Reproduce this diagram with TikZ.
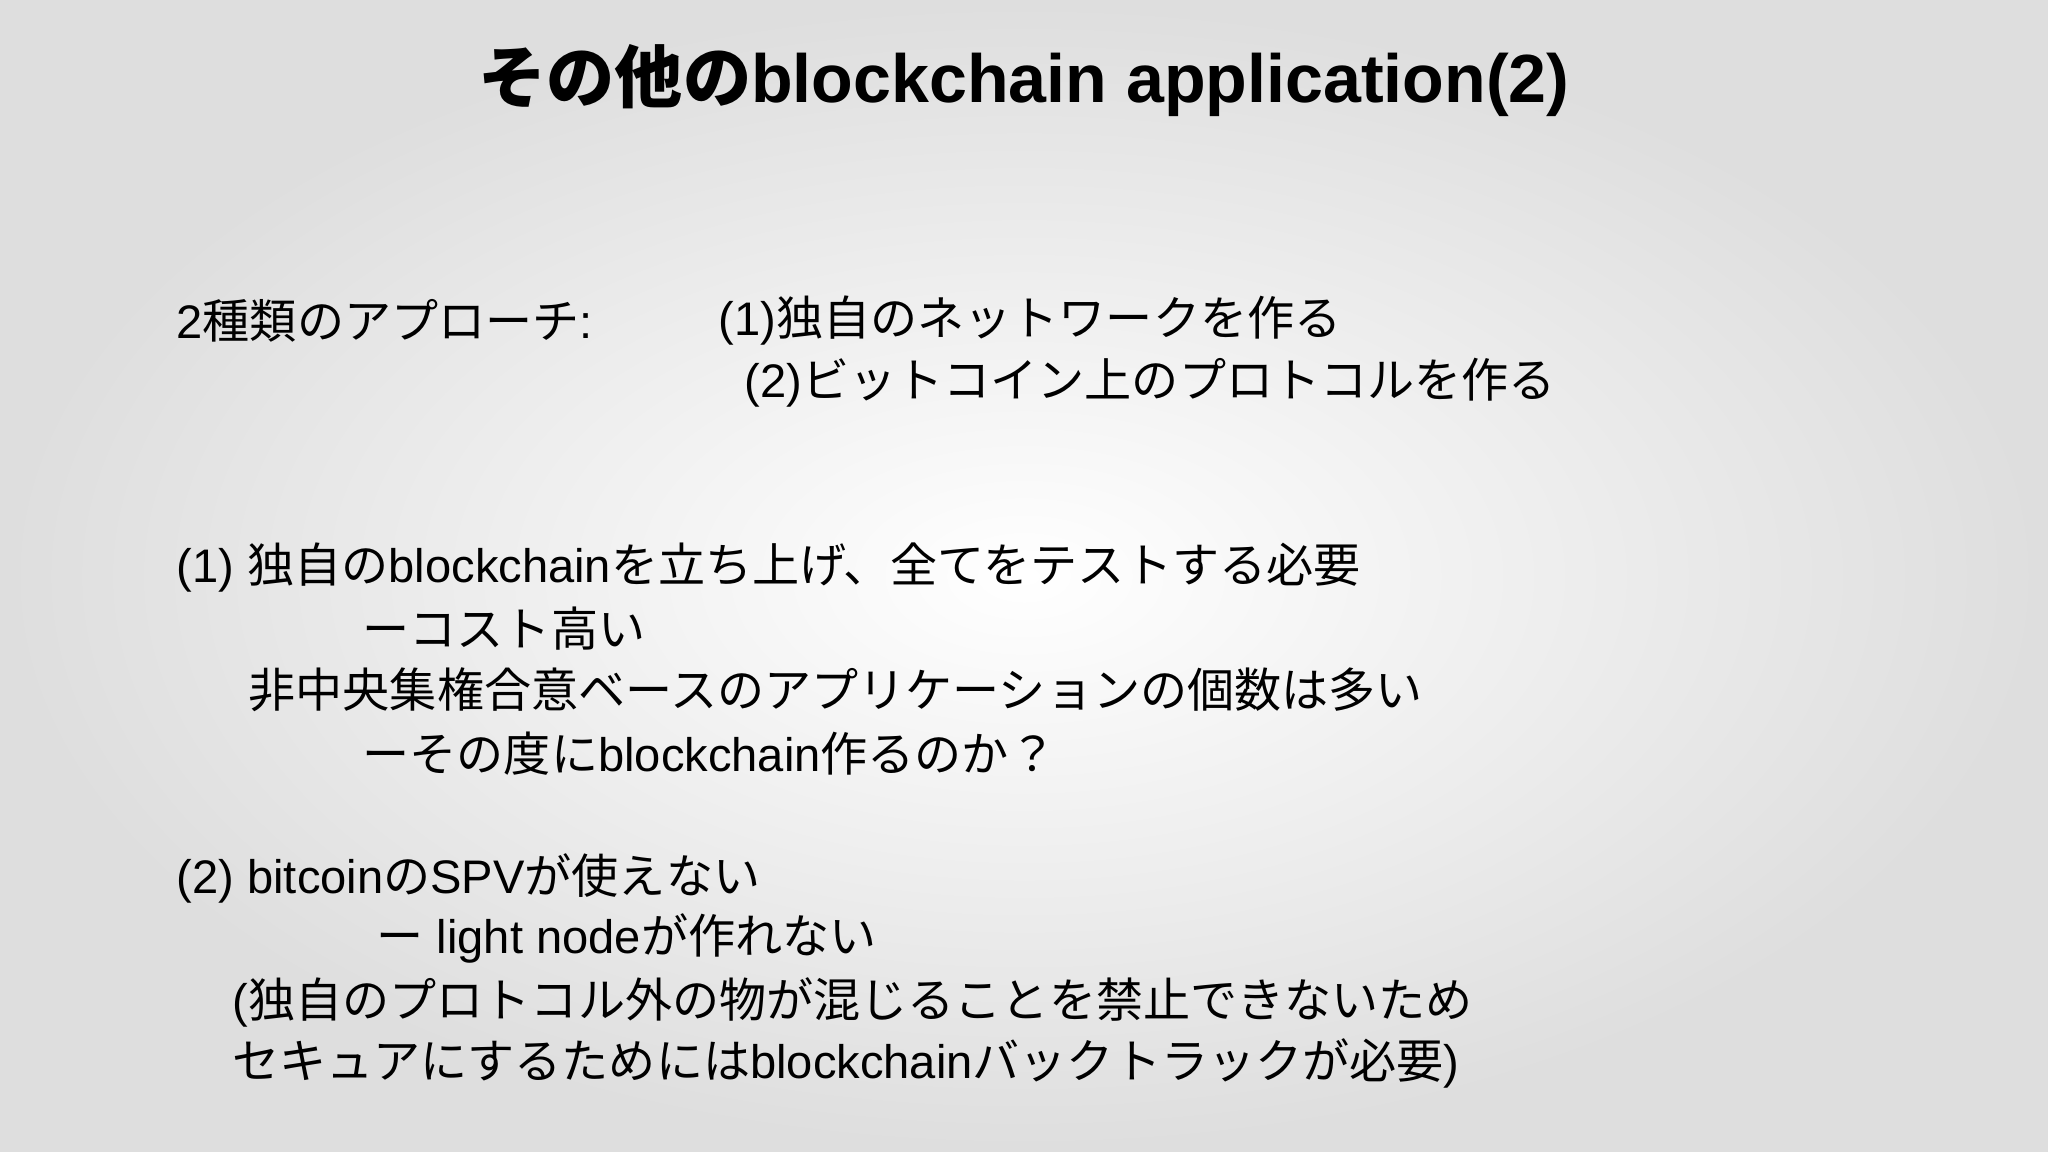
\documentclass[tikz,border=0pt]{standalone}
\usepackage{fontspec}
\setmainfont{Liberation Sans}
\newfontfamily\cjk{Noto Sans CJK JP}
\newcommand{\jp}[1]{{\cjk #1}}
\begin{document}
\begin{tikzpicture}[x=1cm,y=1cm,
  body/.style={anchor=west,inner sep=0pt,font=\fontsize{13.4}{16}\selectfont}]
\useasboundingbox (0,0) rectangle (20.48,-11.52);
\shade[inner color=white,outer color=black!13] (0,0) rectangle (20.48,-11.52);
\node[inner sep=0pt,font=\fontsize{19.4}{24}\bfseries\selectfont] (title) at (10.24,-0.81) {\jp{\bfseries その他の}blockchain application(2)};
\node[body] (a1) at (1.76,-3.21) {2\jp{種類のアプローチ}:};
\node[body] (a2) at (7.18,-3.21) {(1)\jp{独自のネットワークを作る}};
\node[body] (a3) at (7.44,-3.83) {(2)\jp{ビットコイン上のプロトコルを作る}};
\node[body] (b1) at (1.76,-5.68) {(1) \jp{独自の}blockchain\jp{を立ち上げ、全てをテストする必要}};
\node[body] (b2) at (3.62,-6.29) {\jp{ーコスト高い}};
\node[body] (b3) at (2.48,-6.90) {\jp{非中央集権合意ベースのアプリケーションの個数は多い}};
\node[body] (b4) at (3.62,-7.54) {\jp{ーその度に}blockchain\jp{作るのか？}};
\node[body] (c1) at (1.76,-8.78) {(2) bitcoin\jp{の}SPV\jp{が使えない}};
\node[body] (c2) at (3.76,-9.38) {\jp{ー} light node\jp{が作れない}};
\node[body] (c3) at (2.32,-10.02) {(\jp{独自のプロトコル外の物が混じることを禁止できないため}};
\node[body] (c4) at (2.32,-10.63) {\jp{セキュアにするためには}blockchain\jp{バックトラックが必要})};
\end{tikzpicture}
\end{document}
